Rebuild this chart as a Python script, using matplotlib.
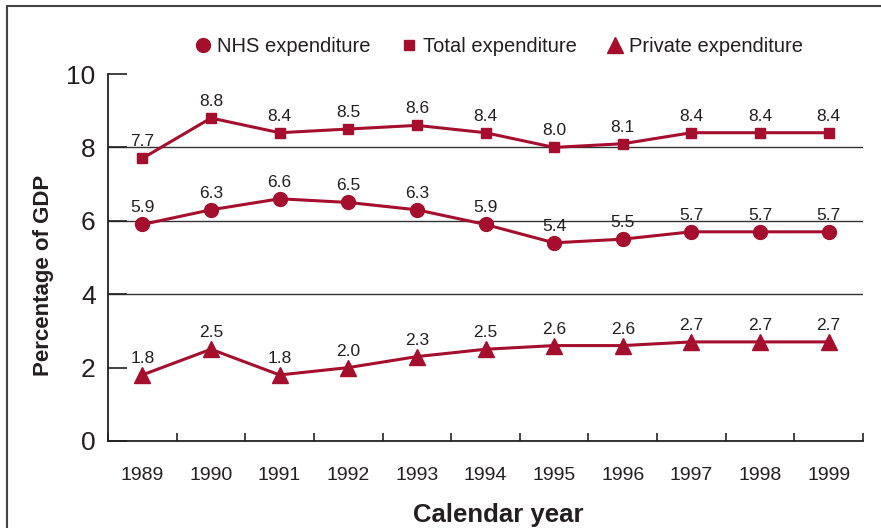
import matplotlib
matplotlib.use("Agg")
import matplotlib.pyplot as plt
from matplotlib.patches import Rectangle
from matplotlib.lines import Line2D
import numpy as np

years = ["1989", "1990", "1991", "1992", "1993", "1994", "1995", "1996", "1997", "1998", "1999"]
nhs = [5.9, 6.3, 6.6, 6.5, 6.3, 5.9, 5.4, 5.5, 5.7, 5.7, 5.7]
total = [7.7, 8.8, 8.4, 8.5, 8.6, 8.4, 8.0, 8.1, 8.4, 8.4, 8.4]
private = [1.8, 2.5, 1.8, 2.0, 2.3, 2.5, 2.6, 2.6, 2.7, 2.7, 2.7]
series_names = ["NHS expenditure", "Total expenditure", "Private expenditure"]
y_ticks = [0, 2, 4, 6, 8, 10]
grid_levels = [4, 6, 8]

RED = "#a50f2d"
TXT = "#231f20"

plt.rcParams['font.family'] = ['Liberation Sans', 'DejaVu Sans']

W, H = 881, 528
fig = plt.figure(figsize=(W / 100, H / 100), dpi=100)
ax = fig.add_axes([108 / W, 1 - 441 / H, 755 / W, 367 / H])

x = np.arange(len(years))
specs = [(nhs, 'o', 10), (total, 's', 7.5), (private, '^', 11)]
for vals, mk, ms in specs:
    ax.plot(x, vals, color=RED, lw=2.2, marker=mk, markersize=ms, zorder=3)
    for xi, v in zip(x, vals):
        ax.annotate(f"{v:.1f}", (xi, v), xytext=(0, 6.5), textcoords='offset points',
                    ha='center', va='bottom', fontsize=12.5, color=TXT, zorder=4)

for g in grid_levels:
    ax.axhline(g, color='#333333', lw=1.0, zorder=1)

ax.set_xlim(-0.5, len(years) - 0.5)
ax.set_ylim(0, 10)
ax.set_yticks(y_ticks)
ax.set_yticklabels([str(t) for t in y_ticks], fontsize=19, color=TXT)
ax.tick_params(axis='y', direction='in', length=14, width=1.2, pad=9, color='#222222')

ax.set_xticks(x)
ax.set_xticklabels(years, fontsize=14, color=TXT)
ax.tick_params(axis='x', which='major', length=0, pad=19)
ax.set_xticks(np.arange(-0.5, len(years)), minor=True)
ax.tick_params(axis='x', which='minor', direction='in', length=6, width=1.2, color='#222222')

for s in ['top', 'right']:
    ax.spines[s].set_visible(False)
for s in ['left', 'bottom']:
    ax.spines[s].set_linewidth(1.3)
    ax.spines[s].set_color('#222222')

ax.set_ylabel("Percentage of GDP", fontsize=16, fontweight='bold', color=TXT)
ax.yaxis.set_label_coords(-0.072, 0.45)
ax.set_xlabel("Calendar year", fontsize=18.5, fontweight='bold', color=TXT)
ax.xaxis.set_label_coords(0.517, -0.168)

handles = [Line2D([], [], color=RED, marker=mk, markersize=ms, linestyle='None')
           for (_, mk, ms) in specs]
fig.legend(handles, series_names, loc='center', bbox_to_anchor=(498 / W, 1 - 47 / H),
           ncol=3, frameon=False, fontsize=14.5, handletextpad=0.2, columnspacing=1.4,
           handlelength=1.0, labelcolor=TXT)

fig.patches.append(Rectangle((7 / W, -0.2), 1.5, 0.2 + 1 - 6 / H, transform=fig.transFigure,
                             fill=False, edgecolor='#444444', lw=1.5))

fig.savefig("out.png", dpi=100)
